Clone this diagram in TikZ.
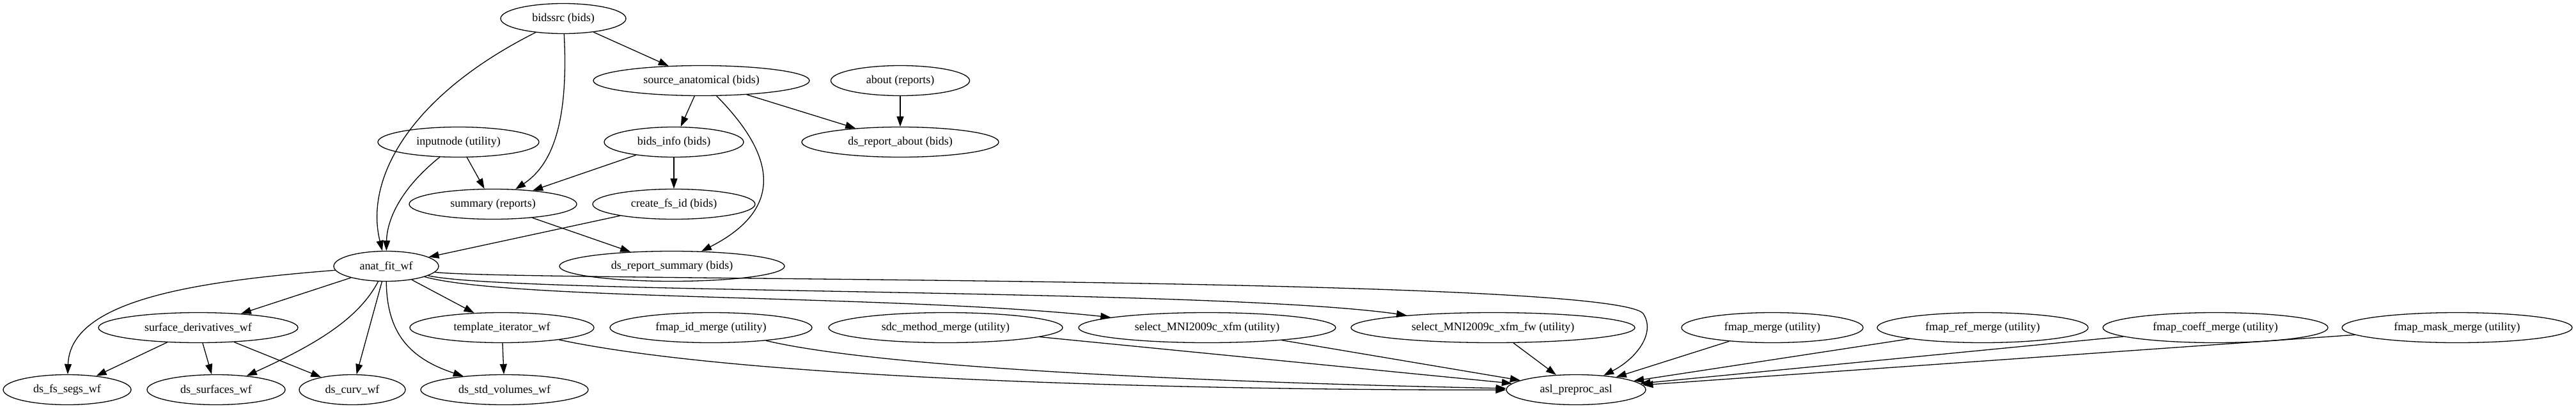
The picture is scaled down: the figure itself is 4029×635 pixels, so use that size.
\documentclass[tikz,border=0pt]{standalone}
\usepackage{fontspec}
\setmainfont{Liberation Serif}
\usetikzlibrary{arrows.meta}
\usetikzlibrary{shapes.geometric}
\tikzstyle{unit} = [ellipse, draw, line width=1.3pt, inner sep=0pt, minimum height=47pt, font=\fontsize{18}{20}\selectfont]
\tikzstyle{connector} = [line width=1.3pt, -{Triangle[length=16pt,width=11pt]}]

\begin{document}
\begin{tikzpicture}[x=1pt, y=-1pt]
        \useasboundingbox (0,0) rectangle (4029,635);
        % first rows
        \node (bidssrc) [unit, minimum width=196pt] at (881,29) {bidssrc (bids)};
        \node (srcanat) [unit, minimum width=338pt] at (1097,126) {source\_anatomical (bids)};
        \node (about) [unit, minimum width=217pt] at (1408,126) {about (reports)};
        \node (inputnode) [unit, minimum width=252pt] at (717,222) {inputnode (utility)};
        \node (bidsinfo) [unit, minimum width=218pt] at (1054,222) {bids\_info (bids)};
        \node (dsabout) [unit, minimum width=308pt] at (1408,222) {ds\_report\_about (bids)};
        \node (summary) [unit, minimum width=262pt] at (771,319) {summary (reports)};
        \node (fsid) [unit, minimum width=254pt] at (1054,319) {create\_fs\_id (bids)};
        \node (anatfit) [unit, minimum width=164pt] at (604,416) {anat\_fit\_wf};
        \node (dssummary) [unit, minimum width=352pt] at (1051,416) {ds\_report\_summary (bids)};
        % middle row
        \node (surfderiv) [unit, minimum width=312pt] at (310,512) {surface\_derivatives\_wf};
        \node (tpliter) [unit, minimum width=288pt] at (785,512) {template\_iterator\_wf};
        \node (fmapid) [unit, minimum width=316pt] at (1112,512) {fmap\_id\_merge (utility)};
        \node (sdcmethod) [unit, minimum width=366pt] at (1479,512) {sdc\_method\_merge (utility)};
        \node (selxfm) [unit, minimum width=402pt] at (1888,512) {select\_MNI2009c\_xfm (utility)};
        \node (selxfmfw) [unit, minimum width=444pt] at (2335,512) {select\_MNI2009c\_xfm\_fw (utility)};
        \node (fmapmerge) [unit, minimum width=284pt] at (2772,512) {fmap\_merge (utility)};
        \node (fmapref) [unit, minimum width=330pt] at (3101,512) {fmap\_ref\_merge (utility)};
        \node (fmapcoeff) [unit, minimum width=352pt] at (3465,512) {fmap\_coeff\_merge (utility)};
        \node (fmapmask) [unit, minimum width=360pt] at (3843,512) {fmap\_mask\_merge (utility)};
        % bottom row
        \node (dsfssegs) [unit, minimum width=200pt] at (105,609) {ds\_fs\_segs\_wf};
        \node (dssurf) [unit, minimum width=216pt] at (338,609) {ds\_surfaces\_wf};
        \node (dscurv) [unit, minimum width=166pt] at (551,609) {ds\_curv\_wf};
        \node (dsstd) [unit, minimum width=262pt] at (789,609) {ds\_std\_volumes\_wf};
        \node (aslprep) [unit, minimum width=218pt] at (2465,609) {asl\_preproc\_asl};
        % edges
        \draw [connector] (bidssrc) -- (srcanat);
        \draw [connector] (bidssrc) .. controls (640,150) and (570,280) .. (anatfit);
        \draw [connector] (bidssrc) .. controls (890,200) and (860,260) .. (summary);
        \draw [connector] (srcanat) -- (bidsinfo);
        \draw [connector] (srcanat) -- (dsabout);
        \draw [connector] (srcanat) .. controls (1200,230) and (1240,320) .. (dssummary);
        \draw [connector] (about) -- (dsabout);
        \draw [connector] (inputnode) -- (summary);
        \draw [connector] (inputnode) .. controls (620,300) and (605,350) .. (anatfit);
        \draw [connector] (bidsinfo) -- (summary);
        \draw [connector] (bidsinfo) -- (fsid);
        \draw [connector] (summary) -- (dssummary);
        \draw [connector] (fsid) -- (anatfit);
        \draw [connector] (anatfit) -- (surfderiv);
        \draw [connector] (anatfit) -- (tpliter);
        \draw [connector] (anatfit) .. controls (300,440) and (110,470) .. (dsfssegs);
        \draw [connector] (anatfit) .. controls (560,500) and (490,540) .. (dssurf);
        \draw [connector] (anatfit) -- (dscurv);
        \draw [connector] (anatfit) .. controls (605,520) and (640,560) .. (dsstd);
        \draw [connector] (anatfit) .. controls (800,470) and (1400,460) .. (selxfm);
        \draw [connector] (anatfit) .. controls (800,460) and (1900,450) .. (selxfmfw);
        \draw [connector] (anatfit) .. controls (800,440) and (2520,430) .. (2570,490) .. controls (2590,520) and (2560,560) .. (aslprep);
        \draw [connector] (surfderiv) -- (dsfssegs);
        \draw [connector] (surfderiv) -- (dssurf);
        \draw [connector] (surfderiv) -- (dscurv);
        \draw [connector] (tpliter) -- (dsstd);
        \draw [connector] (tpliter) .. controls (1200,600) and (2000,610) .. (aslprep);
        \draw [connector] (fmapid) .. controls (1400,580) and (2000,600) .. (aslprep);
        \draw [connector] (sdcmethod) -- (aslprep);
        \draw [connector] (selxfm) -- (aslprep);
        \draw [connector] (selxfmfw) -- (aslprep);
        \draw [connector] (fmapmerge) -- (aslprep);
        \draw [connector] (fmapref) -- (aslprep);
        \draw [connector] (fmapcoeff) -- (aslprep);
        \draw [connector] (fmapmask) -- (aslprep);
    \end{tikzpicture}
\end{document}
